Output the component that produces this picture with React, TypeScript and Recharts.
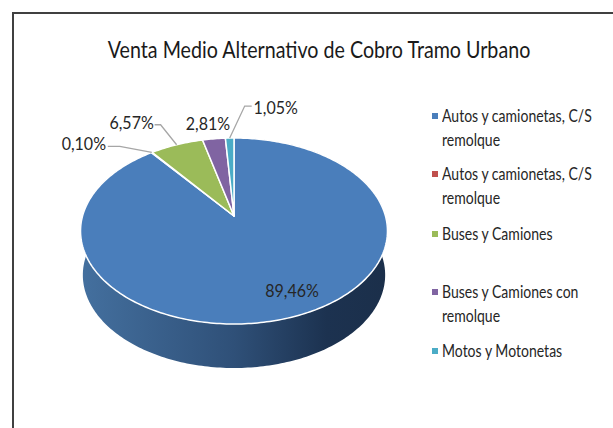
import { PieChart, Pie, Legend } from "recharts";

const CATEGORIES = [
  "Autos y camionetas, C/S remolque",
  "Autos y camionetas, C/S remolque",
  "Buses y Camiones",
  "Buses y Camiones con remolque",
  "Motos y Motonetas",
];
const SHARES = [89.46, 0.1, 6.57, 2.81, 1.05];
const COLORS = ["#4a7ebb", "#c0504d", "#9bbb59", "#8064a2", "#4bacc6"];

const FONT = "Lato, sans-serif";
const TEXT = "#262626";

const slices = CATEGORIES.map((name, i) => ({ name, value: SHARES[i], fill: COLORS[i] }));

// tilted disc: a perspective projection of the unit circle, so the hub sits above the ellipse centre
const DIST = 6.2;
const SCALE_X = 939;
const SCALE_Y = 561.6;
const WALL = 44;
const WALL_SHRINK = 0.985;

function project(cx: number, cy: number, deg: number) {
  const a = (deg * Math.PI) / 180;
  const u = Math.cos(a);
  const v = -Math.sin(a);
  return { x: cx + (SCALE_X * u) / (DIST - v), y: cy + (SCALE_Y * v) / (DIST - v) };
}

function arcPoints(cx: number, cy: number, from: number, to: number) {
  const n = Math.max(2, Math.ceil(Math.abs(to - from)));
  const pts = [];
  for (let i = 0; i <= n; i++) pts.push(project(cx, cy, from + ((to - from) * i) / n));
  return pts;
}

const toPath = (pts: { x: number; y: number }[]) =>
  pts.map((p, i) => `${i ? "L" : "M"}${p.x.toFixed(2)} ${p.y.toFixed(2)}`).join(" ") + " Z";

function TiltedSector(props: any) {
  const { cx, cy, startAngle, endAngle, fill, index } = props;
  const rim = arcPoints(cx, cy, startAngle, endAngle);
  const base = rim
    .map((p) => ({ x: cx + (p.x - cx) * WALL_SHRINK, y: p.y + WALL }))
    .reverse();
  return (
    <g>
      {index === 0 && <path d={toPath([...rim, ...base])} fill="url(#wallShade)" />}
      <path
        d={toPath([{ x: cx, y: cy }, ...rim])}
        fill={fill}
        stroke="#ffffff"
        strokeWidth={1.5}
        strokeLinejoin="round"
      />
    </g>
  );
}

// label centre relative to the rim point of its slice, plus optional leader elbow and start
const LABEL_SPOTS = [
  { dx: 0, dy: -27 },
  { dx: -68, dy: -9, elbow: [-32, -6], start: [-44, -6] },
  { dx: -45, dy: -23, elbow: [-16, -20], start: [-22, -20] },
  { dx: -6, dy: -16 },
  { dx: 46, dy: -31, elbow: [15, -32], start: [22, -32] },
];

function SliceLabel(props: any) {
  const { cx, cy, midAngle, index, value } = props;
  const rim = project(cx, cy, midAngle);
  const spot = LABEL_SPOTS[index];
  return (
    <g>
      {spot.elbow && (
        <polyline
          points={`${rim.x},${rim.y} ${rim.x + spot.elbow[0]},${rim.y + spot.elbow[1]} ${rim.x + spot.start[0]},${rim.y + spot.start[1]}`}
          fill="none"
          stroke="#a6a6a6"
          strokeWidth={1.3}
        />
      )}
      <text
        transform={`translate(${rim.x + spot.dx} ${rim.y + spot.dy}) scale(0.89 1)`}
        textAnchor="middle"
        dominantBaseline="central"
        fontFamily={FONT}
        fontSize={18}
        fill={TEXT}
      >
        {value.toFixed(2).replace(".", ",")}%
      </text>
    </g>
  );
}

const LEGEND_TOPS = [104, 162, 222, 280, 339];

function SideLegend({ payload }: any) {
  return (
    <div style={{ position: "relative", width: 613, height: 428, fontFamily: FONT, fontSize: 16.5, color: TEXT }}>
      {(payload || []).map((item: any, i: number) => (
        <div key={i} style={{ position: "absolute", left: 442, top: LEGEND_TOPS[i], lineHeight: "24px" }}>
          <span
            style={{ position: "absolute", left: -10, top: 9, width: 6, height: 6, background: item.color }}
          />
          <div style={{ width: 190, transform: "scaleX(0.85)", transformOrigin: "left top" }}>{item.value}</div>
        </div>
      ))}
    </div>
  );
}

export default function App() {
  return (
    <div style={{ position: "relative", width: 613, height: 428 }}>
      <style>{"body{margin:0;overflow:hidden}"}</style>
      <div
        style={{
          position: "absolute",
          left: 12,
          top: 12,
          width: 601,
          height: 416,
          borderLeft: "2px solid #404040",
          borderTop: "2px solid #404040",
          boxSizing: "border-box",
        }}
      />
      <PieChart width={613} height={428} margin={{ top: 0, right: 0, bottom: 0, left: 0 }} style={{ position: "absolute", left: 0, top: 0 }}>
        <defs>
          <linearGradient id="wallShade" gradientUnits="userSpaceOnUse" x1={80} y1={0} x2={388} y2={0}>
            <stop offset="0%" stopColor="#44709f" />
            <stop offset="50%" stopColor="#2f5078" />
            <stop offset="80%" stopColor="#1c3250" />
            <stop offset="100%" stopColor="#1b2f4a" />
          </linearGradient>
        </defs>
        <text
          transform="translate(319 49) scale(0.82 1)"
          textAnchor="middle"
          dominantBaseline="central"
          fontFamily={FONT}
          fontSize={24}
          fill="#1a1a1a"
        >
          Venta Medio Alternativo de Cobro Tramo Urbano
        </text>
        <Pie
          data={slices}
          dataKey="value"
          nameKey="name"
          cx={234}
          cy={216}
          outerRadius={100}
          startAngle={90}
          endAngle={-270}
          shape={TiltedSector}
          label={SliceLabel}
          labelLine={false}
          isAnimationActive={false}
        />
        <Legend content={SideLegend} wrapperStyle={{ left: 0, top: 0, width: 613, height: 428 }} />
      </PieChart>
    </div>
  );
}
